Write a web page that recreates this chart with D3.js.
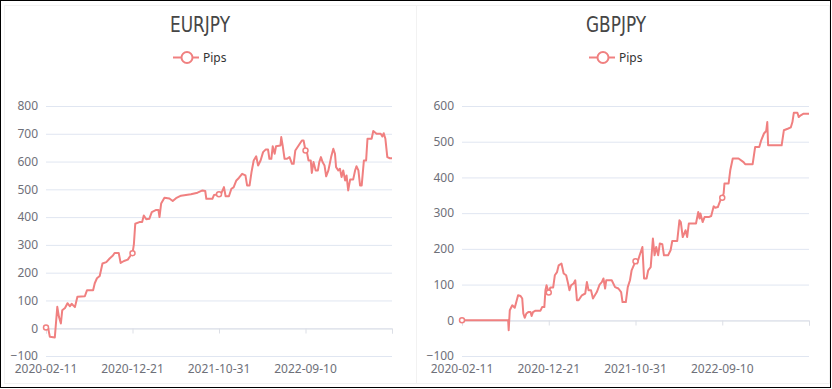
<!DOCTYPE html>
<html>
<head>
<meta charset="utf-8">
<script src="https://cdn.jsdelivr.net/npm/d3@7"></script>
<style>
  body { margin: 0; background: #fff; }
  svg { display: block; font-family: "Noto Sans", sans-serif; }
</style>
</head>
<body>
<svg id="chart" width="832" height="389"></svg>
<script>
// x is a daily category axis starting 2020-02-11, label every 314 days
const xTickIdx = [0, 314, 628, 942, 1256];
const xTickLabels = ["2020-02-11", "2020-12-21", "2021-10-31", "2022-09-10", ""];
const lastIdx = 1256;

const eurYTicks = [-100, 0, 100, 200, 300, 400, 500, 600, 700, 800];
const gbpYTicks = [-100, 0, 100, 200, 300, 400, 500, 600];

// EURJPY pips (day index, value)
const eurDays = [0,8,14,32,41,47,54,59,69,78,87,93,105,114,141,149,171,177,185,195,
  205,219,231,243,249,264,271,283,297,307,314,319,324,339,349,355,364,375,384,400,
  408,412,418,430,448,460,472,490,526,550,568,578,582,604,610,628,635,646,652,664,
  673,681,691,700,712,724,730,739,746,754,763,770,779,788,797,806,811,818,823,830,
  835,851,854,859,866,875,884,893,899,905,917,929,935,942,947,953,961,965,971,979,
  987,992,998,1004,1011,1017,1025,1035,1043,1049,1053,1061,1067,1073,1079,1086,1091,1097,1104,1115,
  1122,1127,1134,1140,1146,1154,1162,1167,1182,1188,1200,1215,1221,1226,1232,1239,1248,1256];
const eurPips = [3,0,-31,-33,77,41,17,65,73,90,79,88,76,113,115,137,137,162,180,188,
  233,238,251,262,271,271,235,242,247,262,270,302,376,382,382,406,392,394,418,426,
  426,400,449,470,467,458,468,477,482,488,496,494,466,466,480,482,483,508,475,475,
  502,507,532,541,556,550,514,514,562,604,619,586,604,634,643,643,610,610,655,628,
  655,658,688,658,610,610,616,592,592,640,658,676,676,640,634,604,604,559,598,568,
  568,598,616,598,586,547,568,616,646,628,580,568,574,544,568,532,550,496,535,535,
  568,583,568,514,514,604,604,682,682,710,700,700,690,702,682,616,612,612];

// GBPJPY pips (day index, value)
const gbpDays = [0,167,169,173,182,191,203,212,218,222,227,233,240,248,252,257,266,284,290,298,
  302,306,314,320,330,336,344,350,360,368,377,384,389,395,404,410,416,422,434,446,
  452,458,467,474,488,498,506,512,518,522,542,554,566,576,581,593,600,608,614,619,
  628,634,643,653,659,668,674,683,691,697,703,710,716,725,731,746,755,761,779,787,
  792,799,809,815,821,833,847,855,860,863,871,878,893,902,911,917,926,935,942,947,
  950,965,971,980,1001,1019,1025,1052,1061,1076,1083,1093,1101,1105,1108,1125,1157,1165,1181,1190,
  1196,1201,1214,1219,1226,1235,1256];
const gbpPips = [0,0,-28,28,42,35,70,68,61,19,7,19,23,23,12,23,27,27,37,37,
  84,98,78,92,92,126,135,154,159,131,126,103,84,98,103,112,56,56,70,75,
  107,84,84,61,79,100,107,117,89,112,112,93,89,79,51,51,93,112,140,149,
  165,159,182,205,117,117,140,149,229,182,205,182,215,213,182,182,196,222,222,280,
  275,233,252,233,271,271,271,303,285,299,275,289,289,292,319,315,317,336,343,355,
  383,383,420,453,453,443,437,437,485,485,504,523,530,555,490,490,490,532,537,540,
  555,581,581,569,574,578,578];

const lineColor = "#f08080";
const svg = d3.select("#chart");

// outer frame and faint card outlines
svg.append("rect").attr("x", 0.5).attr("y", 0.5).attr("width", 830).attr("height", 387)
  .attr("fill", "none").attr("stroke", "#000");
svg.append("rect").attr("x", 4.5).attr("y", 5.5).attr("width", 412).attr("height", 378)
  .attr("fill", "none").attr("stroke", "#f2f2f2");
svg.append("rect").attr("x", 416.5).attr("y", 5.5).attr("width", 413).attr("height", 378)
  .attr("fill", "none").attr("stroke", "#f2f2f2");

const panels = [
  { title: "EURJPY", days: eurDays, pips: eurPips, yTicks: eurYTicks, left: 46, right: 392, cx: 200, lx: 187 },
  { title: "GBPJPY", days: gbpDays, pips: gbpPips, yTicks: gbpYTicks, left: 462, right: 809, cx: 616, lx: 603 }
];

const plotTop = 106, plotBottom = 356;

panels.forEach(p => {
  const g = svg.append("g");
  const x = d3.scaleLinear().domain([0, lastIdx]).range([p.left, p.right]);
  const y = d3.scaleLinear()
    .domain([p.yTicks[0], p.yTicks[p.yTicks.length - 1]])
    .range([plotBottom, plotTop]);

  // title
  g.append("text")
    .attr("x", p.cx).attr("y", 32)
    .attr("text-anchor", "middle")
    .attr("textLength", 60).attr("lengthAdjust", "spacingAndGlyphs")
    .style("font-family", "'Liberation Sans Narrow', 'DejaVu Sans Condensed', sans-serif")
    .style("font-size", "21px")
    .attr("fill", "#464646")
    .text(p.title);

  // legend
  g.append("line").attr("x1", p.lx - 14).attr("x2", p.lx + 12)
    .attr("y1", 57.5).attr("y2", 57.5)
    .attr("stroke", lineColor).attr("stroke-width", 2);
  g.append("circle").attr("cx", p.lx).attr("cy", 57.5).attr("r", 5.5)
    .attr("fill", "#fff").attr("stroke", lineColor).attr("stroke-width", 2);
  g.append("text").attr("x", p.lx + 16).attr("y", 61.5)
    .style("font-size", "12px").attr("fill", "#333").text("Pips");

  // y axis with grid
  const yAxis = g.append("g")
    .attr("transform", `translate(${p.left},0)`)
    .call(d3.axisLeft(y).tickValues(p.yTicks).tickSize(-(p.right - p.left)).tickPadding(8));
  yAxis.select(".domain").remove();
  yAxis.selectAll(".tick line").attr("stroke", "#e0e6f1");
  yAxis.selectAll(".tick text").attr("fill", "#6e7079")
    .style("font-size", "12px").style("font-family", "'Noto Sans', sans-serif");

  // x axis on the zero line
  const xAxis = g.append("g")
    .attr("transform", `translate(0,${Math.round(y(0)) + 0.5})`)
    .call(d3.axisBottom(x).tickValues(xTickIdx).tickSize(5).tickFormat(""));
  xAxis.select(".domain").attr("stroke", "#dcdfe6");
  xAxis.selectAll(".tick line").attr("stroke", "#dcdfe6");

  g.selectAll(".xlab").data(xTickIdx).enter().append("text")
    .attr("class", "xlab")
    .attr("x", d => x(d)).attr("y", 373)
    .attr("text-anchor", "middle")
    .style("font-size", "12px").attr("fill", "#6e7079")
    .text((d, i) => xTickLabels[i]);

  // line
  const pts = p.days.map((d, i) => [d, p.pips[i]]);
  g.append("path").datum(pts)
    .attr("fill", "none").attr("stroke", lineColor).attr("stroke-width", 2)
    .attr("stroke-linejoin", "round")
    .attr("d", d3.line().x(d => x(d[0])).y(d => y(d[1])));

  // symbols at the labelled categories
  const sym = pts.filter(d => xTickIdx.slice(0, 4).includes(d[0]));
  g.selectAll(".sym").data(sym).enter().append("circle")
    .attr("class", "sym")
    .attr("cx", d => x(d[0])).attr("cy", d => y(d[1])).attr("r", 2.5)
    .attr("fill", "#fff").attr("stroke", lineColor).attr("stroke-width", 1.5);
});
</script>
</body>
</html>
